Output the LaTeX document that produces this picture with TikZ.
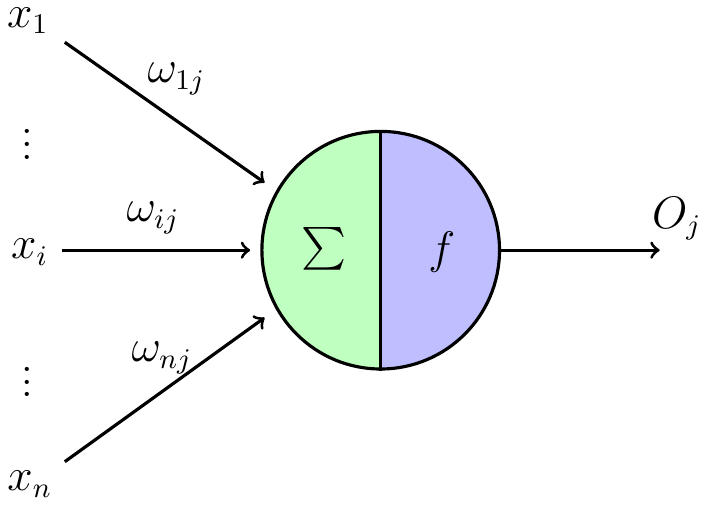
\documentclass[tikz,border=0pt]{standalone}
\usepackage{amsmath,amssymb}
\usepackage{tikz}
\usetikzlibrary{positioning, calc}

\begin{document}
\begin{tikzpicture}[line width=1pt, every node/.style={font=\fontsize{13.5}{16}\selectfont, inner sep=1pt}]
    \useasboundingbox (0,0) rectangle (7.8,5.6);

    % inputs
    \node (x1) at (0.31, 5.37) {$x_1$};
    \node (dots1) at (0.30, 4.10) {$\vdots$};
    \node (xi) at (0.33, 2.80) {$x_i$};
    \node (dots2) at (0.30, 1.46) {$\vdots$};
    \node (xn) at (0.33, 0.22) {$x_n$};

    % neuron: two coloured halves
    \coordinate (c) at (4.23, 2.82);
    \fill[green!25] (c) ++(0,1.32) arc (90:270:1.32) -- cycle;
    \fill[blue!25] (c) ++(0,1.32) arc (90:-90:1.32) -- cycle;
    \node (neuron) at (c) [circle, draw, minimum size=2.64cm, inner sep=0pt] {};
    \draw (neuron.north) -- (neuron.south);
    \node (sum) at (3.60, 2.84) {$\sum$};
    \node (act) at (4.91, 2.80) {$f$};

    % connector ends
    \coordinate (s1) at (0.72, 5.13);
    \coordinate (e1) at (2.94, 3.57);
    \coordinate (si) at (0.69, 2.82);
    \coordinate (ei) at (2.78, 2.82);
    \coordinate (sn) at (0.72, 0.47);
    \coordinate (en) at (2.94, 2.07);
    \coordinate (out) at (7.33, 2.82);

    \draw[->] (s1) -- (e1);
    \draw[->] (si) -- (ei);
    \draw[->] (sn) -- (en);
    \draw[->] (neuron.east) -- (out);

    % weights
    \node (w1) at (1.96, 4.72) {$\omega_{1j}$};
    \node (wi) at (1.70, 3.18) {$\omega_{ij}$};
    \node (wn) at (1.80, 1.62) {$\omega_{nj}$};
    \node (oj) at (7.52, 3.17) {$O_j$};
\end{tikzpicture}
\end{document}
